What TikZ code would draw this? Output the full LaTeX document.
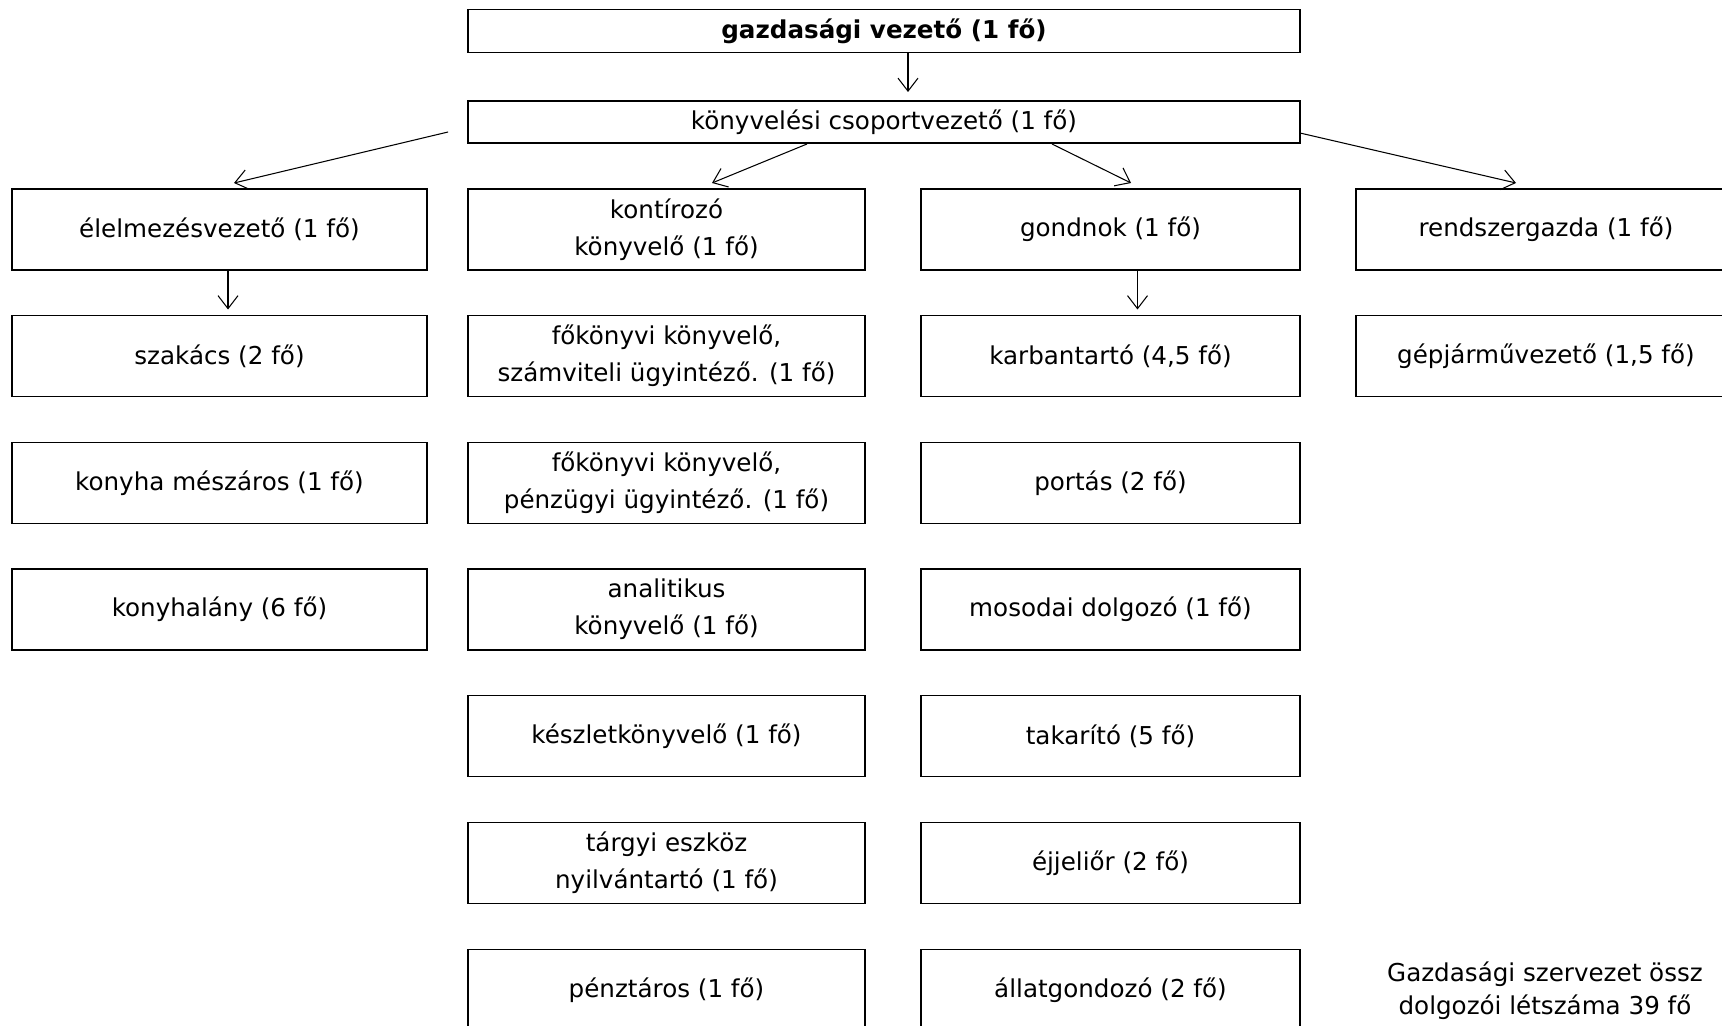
\documentclass[tikz,border=0pt]{standalone}
\usepackage{fontspec}
\setmainfont{DejaVu Sans}
\usetikzlibrary{calc,arrows.meta}
\tikzset{
	posbox/.style={draw, line width=0.8pt, inner sep=0pt, outer sep=0pt, align=center, minimum height=1.62cm},
	colA/.style={posbox, minimum width=8.3cm},
	colB/.style={posbox, minimum width=7.94cm},
	colC/.style={posbox, minimum width=7.58cm},
	colD/.style={posbox, minimum width=7.6cm},
	headbox/.style={posbox, minimum width=16.64cm, minimum height=0.86cm},
	arr/.style={-{Straight Barb[length=0.26cm,width=0.4cm]}, line width=0.6pt}
}

\begin{document}
\begin{tikzpicture}[x=0.02cm, y=-0.02cm, font=\fontsize{14}{21}\selectfont]
			%%%%% START %%%%%
			
			\clip (0, 0) rectangle (1722, 1026);
			
			\node[headbox] (vez) at (884, 31) {\bfseries gazdasági vezető (1 fő)};
			\node[headbox, minimum height=0.84cm] (csop) at (884, 122) {könyvelési csoportvezető (1 fő)};
			
			\node[colA] (elel) at (219.5, 229.5) {élelmezésvezető (1 fő)};
			\node[colA] (szak) at (219.5, 356) {szakács (2 fő)};
			\node[colA] (mesz) at (219.5, 483) {konyha mészáros (1 fő)};
			\node[colA] (lany) at (219.5, 609.5) {konyhalány (6 fő)};
			
			\node[colB] (kont) at (666.5, 229.5) {kontírozó\\könyvelő (1 fő)};
			\node[colB] (foksz) at (666.5, 356) {főkönyvi könyvelő,\\számviteli ügyintéző. (1 fő)};
			\node[colB] (fokp) at (666.5, 483) {főkönyvi könyvelő,\\pénzügyi ügyintéző. (1 fő)};
			\node[colB] (anal) at (666.5, 609.5) {analitikus\\könyvelő (1 fő)};
			\node[colB] (kesz) at (666.5, 736) {készletkönyvelő (1 fő)};
			\node[colB] (targy) at (666.5, 863) {tárgyi eszköz\\nyilvántartó (1 fő)};
			\node[colB] (penz) at (666.5, 990) {pénztáros (1 fő)};
			
			\node[colC] (gond) at (1110.5, 229.5) {gondnok (1 fő)};
			\node[colC] (karb) at (1110.5, 356) {karbantartó (4,5 fő)};
			\node[colC] (port) at (1110.5, 483) {portás (2 fő)};
			\node[colC] (moso) at (1110.5, 609.5) {mosodai dolgozó (1 fő)};
			\node[colC] (taka) at (1110.5, 736) {takarító (5 fő)};
			\node[colC] (ejje) at (1110.5, 863) {éjjeliőr (2 fő)};
			\node[colC] (allat) at (1110.5, 990) {állatgondozó (2 fő)};
			
			\node[colD] (rend) at (1546, 229.5) {rendszergazda (1 fő)};
			\node[colD] (gepj) at (1546, 356) {gépjárművezető (1,5 fő)};
			
			\node[align=center, font=\fontsize{14}{19}\selectfont] (ossz) at (1545, 991) {Gazdasági szervezet össz\\dolgozói létszáma 39 fő};
			
			\draw[arr] ($(vez.south)+(24, 0)$) -- ($(csop.north)+(24, -9)$);
			
			\draw[arr] ($(csop.west)+(-20, 10)$) -- ($(elel.north)+(14.5, -6)$);
			\draw[arr] ($(csop.south)+(-77, 1)$) -- ($(kont.north)+(45.5, -6)$);
			\draw[arr] ($(csop.south)+(168, 1)$) -- ($(gond.north)+(20.5, -6)$);
			\draw[arr] ($(csop.east)+(0, 11)$) -- ($(rend.north)+(-30, -6)$);
			
			\draw[arr] ($(elel.south)+(8.5, 0)$) -- ($(szak.north)+(8.5, -6)$);
			\draw[arr] ($(gond.south)+(27, 0)$) -- ($(karb.north)+(27, -6)$);
			
			%%%%% END %%%%%
		\end{tikzpicture}
\end{document}
